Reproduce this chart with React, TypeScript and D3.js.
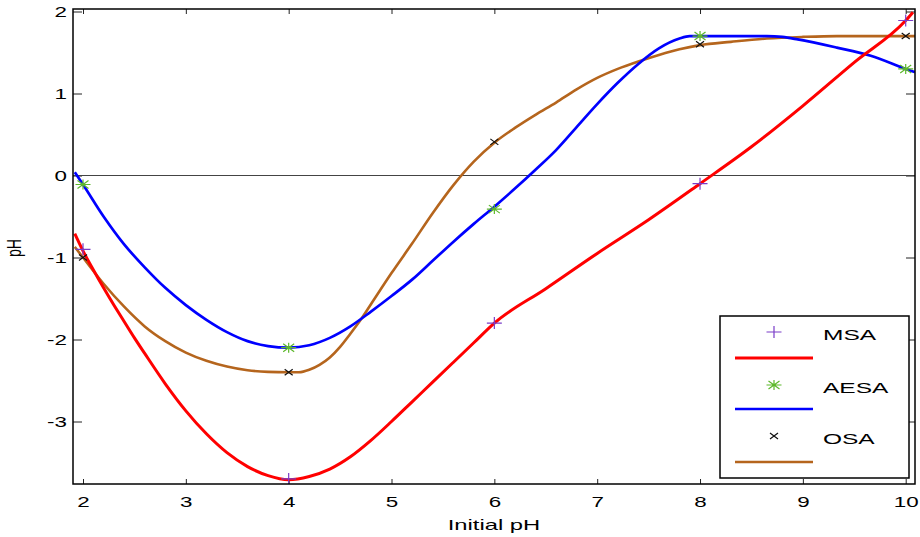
import { useEffect, useRef } from 'react';
import * as d3 from 'd3';

// ─── Datos ───────────────────────────────────────────────────────────────────
const msaX = [1.92, 2.0, 2.1, 2.2, 2.3, 2.4, 2.5, 2.6, 2.8, 3.0, 3.2, 3.4, 3.6, 3.8, 4.0, 4.2, 4.4, 4.6, 4.8, 5.0, 5.2, 5.4, 5.6, 5.8, 6.0, 6.5, 7.0, 7.5, 8.0, 8.5, 9.0, 9.5, 10.0, 10.07];
const msaY = [-0.71, -0.92, -1.15, -1.37, -1.58, -1.78, -1.98, -2.17, -2.54, -2.87, -3.15, -3.38, -3.55, -3.66, -3.71, -3.67, -3.58, -3.43, -3.23, -3.0, -2.76, -2.52, -2.28, -2.04, -1.8, -1.38, -0.95, -0.54, -0.1, 0.35, 0.85, 1.38, 1.89, 1.99];

const aesaX = [1.92, 2.0, 2.2, 2.4, 2.6, 2.8, 3.0, 3.2, 3.4, 3.6, 3.8, 4.0, 4.2, 4.4, 4.6, 4.8, 5.0, 5.2, 5.4, 5.6, 5.8, 6.0, 6.2, 6.4, 6.6, 6.8, 7.0, 7.2, 7.4, 7.6, 7.8, 7.9, 8.0, 8.65, 8.8, 8.95, 9.33, 9.66, 10.0, 10.09];
const aesaY = [0.04, -0.11, -0.5, -0.84, -1.12, -1.37, -1.58, -1.76, -1.91, -2.02, -2.08, -2.1, -2.07, -1.98, -1.84, -1.66, -1.47, -1.27, -1.04, -0.81, -0.59, -0.38, -0.16, 0.07, 0.31, 0.59, 0.87, 1.13, 1.36, 1.55, 1.67, 1.7, 1.7, 1.7, 1.69, 1.66, 1.56, 1.46, 1.3, 1.26];

const osaX = [1.92, 2.0, 2.2, 2.4, 2.6, 2.8, 3.0, 3.2, 3.4, 3.6, 3.8, 4.0, 4.1, 4.2, 4.3, 4.4, 4.5, 4.6, 4.7, 4.8, 5.0, 5.2, 5.4, 5.6, 5.8, 6.0, 6.2, 6.4, 6.6, 6.8, 7.0, 7.2, 7.4, 7.6, 7.8, 8.0, 8.3, 8.65, 9.0, 9.33, 10.09];
const osaY = [-0.87, -1.0, -1.32, -1.6, -1.84, -2.02, -2.16, -2.26, -2.33, -2.375, -2.395, -2.4, -2.4, -2.37, -2.31, -2.22, -2.09, -1.93, -1.76, -1.57, -1.19, -0.83, -0.46, -0.12, 0.17, 0.4, 0.58, 0.74, 0.89, 1.05, 1.19, 1.3, 1.39, 1.47, 1.54, 1.59, 1.63, 1.67, 1.69, 1.7, 1.7];

// marcadores cada 2 unidades de pH
const markerX = [2, 4, 6, 8, 10];
const msaMarks = [-0.9, -3.7, -1.8, -0.1, 1.89];
const aesaMarks = [-0.11, -2.1, -0.41, 1.7, 1.3];
const osaMarks = [-1.0, -2.4, 0.41, 1.6, 1.7];

const xTicks = [2, 3, 4, 5, 6, 7, 8, 9, 10];
const yTicks = [-3, -2, -1, 0, 1, 2];

const FONT = '"Liberation Sans", Arial, Helvetica, sans-serif';
const STRETCH = 1.6;

type Mark = 'plus' | 'star' | 'cross';

function markerPath(kind: Mark, cx: number, cy: number) {
  if (kind === 'plus') {
    return `M${cx - 7.5},${cy}H${cx + 7.5}M${cx},${cy - 6}V${cy + 6}`;
  }
  if (kind === 'star') {
    return `M${cx - 7.5},${cy}H${cx + 7.5}M${cx},${cy - 5}V${cy + 5}` +
      `M${cx - 5.5},${cy - 4}L${cx + 5.5},${cy + 4}M${cx - 5.5},${cy + 4}L${cx + 5.5},${cy - 4}`;
  }
  return `M${cx - 4},${cy - 3}L${cx + 4},${cy + 3}M${cx - 4},${cy + 3}L${cx + 4},${cy - 3}`;
}

export default function App() {
  const svgRef = useRef<SVGSVGElement>(null);

  useEffect(() => {
    if (!svgRef.current) return;
    const W = 920, H = 537;
    const box = { left: 73, right: 915, top: 9, bottom: 484 };

    const x = d3.scaleLinear().domain([2, 10]).range([83, 905.7]);
    const y = d3.scaleLinear().domain([-3, 2]).range([421.5, 11.5]);

    const svg = d3.select(svgRef.current).attr('width', W).attr('height', H);
    svg.selectAll('*').remove();

    svg.append('rect').attr('width', W).attr('height', H).attr('fill', '#fff');

    svg.append('defs').append('clipPath').attr('id', 'plot-clip')
      .append('rect')
      .attr('x', box.left).attr('y', box.top)
      .attr('width', box.right - box.left).attr('height', box.bottom - box.top);

    // ── Ejes (ticks hacia adentro, estilo MATLAB) ───────────────────────────
    const styleAxis = (ax: any) => {
      ax.select('.domain').remove();
      ax.selectAll('line').attr('stroke', '#222').attr('stroke-width', 1);
    };
    const plain = (d: any) => String(d); // guion normal, no signo menos unicode

    svg.append('g')
      .attr('transform', `translate(0,${box.bottom})`)
      .call(d3.axisBottom(x).tickValues(xTicks).tickSizeInner(-5).tickSizeOuter(0).tickFormat(plain))
      .call(styleAxis)
      .call((ax: any) => ax.selectAll('text')
        .attr('y', 0).attr('dy', null)
        .attr('transform', `translate(0,23) scale(${STRETCH},1)`)
        .attr('fill', '#000').attr('font-size', 14).attr('font-family', FONT));

    svg.append('g')
      .attr('transform', `translate(0,${box.top})`)
      .call(d3.axisTop(x).tickValues(xTicks).tickSizeInner(-5).tickSizeOuter(0).tickFormat(() => ''))
      .call(styleAxis);

    svg.append('g')
      .attr('transform', `translate(${box.left},0)`)
      .call(d3.axisLeft(y).tickValues(yTicks).tickSizeInner(-9).tickSizeOuter(0).tickFormat(plain))
      .call(styleAxis)
      .call((ax: any) => ax.selectAll('text')
        .attr('x', 0).attr('dy', null)
        .attr('transform', `translate(-6,5) scale(${STRETCH},1)`)
        .attr('fill', '#000').attr('font-size', 14).attr('font-family', FONT));

    svg.append('g')
      .attr('transform', `translate(${box.right},0)`)
      .call(d3.axisRight(y).tickValues(yTicks).tickSizeInner(-9).tickSizeOuter(0).tickFormat(() => ''))
      .call(styleAxis);

    // línea de cero
    svg.append('line')
      .attr('x1', box.left).attr('x2', box.right)
      .attr('y1', y(0)).attr('y2', y(0))
      .attr('stroke', '#444').attr('stroke-width', 1);

    // ── Curvas ──────────────────────────────────────────────────────────────
    const plot = svg.append('g').attr('clip-path', 'url(#plot-clip)');
    const line = d3.line<[number, number]>()
      .x(d => x(d[0]))
      .y(d => y(d[1]))
      .curve(d3.curveMonotoneX);

    const series = [
      { xs: osaX, ys: osaY, color: '#b5651d', width: 2.6, marks: osaMarks, kind: 'cross' as Mark, markColor: '#111' },
      { xs: aesaX, ys: aesaY, color: '#0000ff', width: 2.7, marks: aesaMarks, kind: 'star' as Mark, markColor: '#5cb82a' },
      { xs: msaX, ys: msaY, color: '#ff0000', width: 3, marks: msaMarks, kind: 'plus' as Mark, markColor: '#7a3cc8' },
    ];

    series.forEach(s => {
      const pts = s.xs.map((v, i) => [v, s.ys[i]] as [number, number]);
      plot.append('path')
        .attr('d', line(pts))
        .attr('fill', 'none')
        .attr('stroke', s.color)
        .attr('stroke-width', s.width)
        .attr('stroke-linejoin', 'round');
    });

    series.forEach(s => {
      plot.append('path')
        .attr('d', markerX.map((v, i) => markerPath(s.kind, x(v), y(s.marks[i]))).join(''))
        .attr('fill', 'none')
        .attr('stroke', s.markColor)
        .attr('stroke-width', 1.2);
    });

    // marco del área de trazado
    svg.append('rect')
      .attr('x', box.left).attr('y', box.top)
      .attr('width', box.right - box.left).attr('height', box.bottom - box.top)
      .attr('fill', 'none').attr('stroke', '#000').attr('stroke-width', 1.5);

    // ── Etiquetas de ejes ───────────────────────────────────────────────────
    svg.append('text')
      .attr('transform', `translate(494,530) scale(1.7,1)`)
      .attr('text-anchor', 'middle')
      .attr('font-size', 14).attr('font-family', FONT)
      .text('Initial pH');

    svg.append('text')
      .attr('transform', `translate(21,248) rotate(-90) scale(1,1.4)`)
      .attr('text-anchor', 'middle')
      .attr('font-size', 14).attr('font-family', FONT)
      .text('pH');

    // ── Leyenda ─────────────────────────────────────────────────────────────
    const lg = { x: 720, y: 316, w: 189, h: 162 };
    svg.append('rect')
      .attr('x', lg.x).attr('y', lg.y).attr('width', lg.w).attr('height', lg.h)
      .attr('fill', '#fff').attr('stroke', '#000').attr('stroke-width', 1.5);

    const legendItems = [
      { label: 'MSA', s: series[2], markY: 332, lineY: 358, textY: 340 },
      { label: 'AESA', s: series[1], markY: 385, lineY: 409, textY: 393 },
      { label: 'OSA', s: series[0], markY: 436, lineY: 462, textY: 444 },
    ];
    legendItems.forEach(it => {
      svg.append('path')
        .attr('d', markerPath(it.s.kind, 774, it.markY))
        .attr('fill', 'none').attr('stroke', it.s.markColor).attr('stroke-width', 1.2);
      svg.append('line')
        .attr('x1', 735).attr('x2', 813).attr('y1', it.lineY).attr('y2', it.lineY)
        .attr('stroke', it.s.color).attr('stroke-width', it.s.width);
      svg.append('text')
        .attr('transform', `translate(823,${it.textY}) scale(1.75,1)`)
        .attr('font-size', 14).attr('font-family', FONT)
        .text(it.label);
    });
  }, []);

  return (
    <svg ref={svgRef} style={{ position: 'absolute', left: 0, top: 0, display: 'block' }} />
  );
}
